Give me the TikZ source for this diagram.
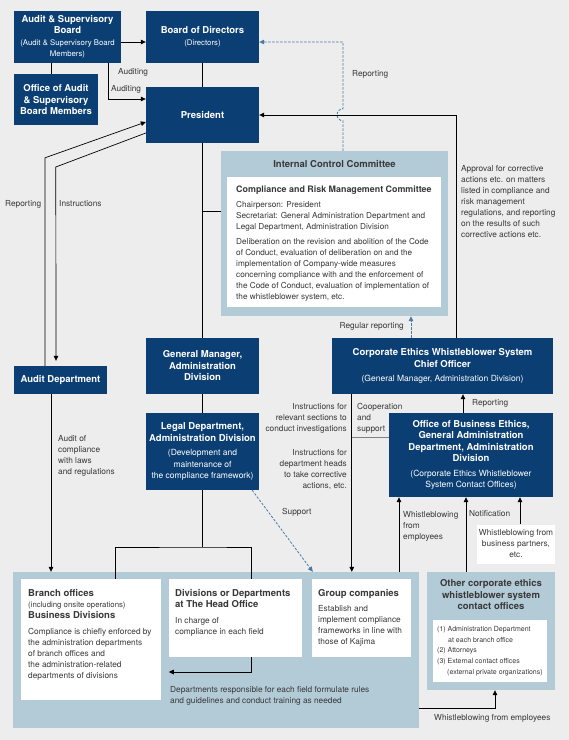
\documentclass[tikz,border=0pt]{standalone}
\usepackage{fontspec}
\setmainfont{TeX Gyre Heros}
\usetikzlibrary{arrows.meta}
\definecolor{navy}{HTML}{0B3F74}
\definecolor{paleblue}{HTML}{B3CAD7}
\definecolor{bggray}{HTML}{EDEDED}
\definecolor{dashblue}{HTML}{4C78A4}
\definecolor{txtgray}{HTML}{383838}
\newcommand{\boxtitle}{\fontsize{9.5}{11.5}\selectfont\bfseries}
\newcommand{\boxtext}{\fontsize{8.3}{11}\selectfont}
\newcommand{\boxsub}{\fontsize{8.5}{11}\selectfont\mdseries}
\newcommand{\boxsubsm}{\fontsize{7.8}{11}\selectfont\mdseries}
\tikzset{
  darkbox/.style={fill=navy, text=white, align=center, inner sep=0pt, font=\boxtitle},
  paleregion/.style={fill=paleblue, inner sep=0pt},
  whitebox/.style={fill=white, inner sep=0pt},
  lbl/.style={text=txtgray, font=\boxtext, inner sep=0pt},
  link/.style={line width=0.7pt},
  conn/.style={line width=0.7pt, -{Triangle[length=5pt,width=4.6pt]}},
  dashconn/.style={dashblue, line width=0.8pt, dash pattern=on 2.4pt off 1.6pt, -{Triangle[length=5pt,width=4.6pt]}}
}

\begin{document}
\begin{tikzpicture}[x=1pt, y=-1pt]
    \fill[bggray] (0,0) rectangle (569,740);
    \useasboundingbox (0,0) rectangle (569,740);

    \node[darkbox, minimum width=107pt, minimum height=52pt] (asb) at (67.5,37) {Audit \& Supervisory\\Board\\\boxsubsm (Audit \& Supervisory Board\\\boxsubsm Members)};
    \node[darkbox, minimum width=113pt, minimum height=52pt] (board) at (202.5,37) {Board of Directors\\\boxsubsm (Directors)};
    \node[darkbox, minimum width=84pt, minimum height=51pt] (office) at (56,99.5) {Office of Audit\\\& Supervisory\\Board Members};
    \node[darkbox, minimum width=113pt, minimum height=56pt] (pres) at (202.5,115) {President};

    \node[paleregion, minimum width=227pt, minimum height=165pt] (icc) at (334.5,233.5) {};
    \node[anchor=north, font=\boxtitle, text=txtgray, inner sep=0pt] (icctitle) at ([yshift=-9.5pt]icc.north) {Internal Control Committee};
    \node[whitebox, minimum width=214pt, minimum height=130pt] (crmc) at (334,242) {};
    \node[lbl, anchor=north west, align=left, font=\fontsize{8.2}{11}\selectfont] (crmctxt) at (236,185.5) {{\fontsize{8.9}{11}\selectfont\bfseries Compliance and Risk Management Committee}\\[4pt]
      Chairperson: President\\
      Secretariat: General Administration Department and\\
      Legal Department, Administration Division\\[4pt]
      Deliberation on the revision and abolition of the Code\\
      of Conduct, evaluation of deliberation on and the\\
      implementation of Company-wide measures\\
      concerning compliance with and the enforcement of\\
      the Code of Conduct, evaluation of implementation of\\
      the whistleblower system, etc.};

    \node[darkbox, minimum width=93pt, minimum height=28pt] (auditdept) at (60.5,380) {Audit Department};
    \node[darkbox, minimum width=113pt, minimum height=56pt] (gm) at (202.5,366) {General Manager,\\Administration\\Division};
    \node[darkbox, minimum width=113pt, minimum height=77pt] (legal) at (202.5,451.5) {Legal Department,\\Administration Division\\[3pt]\boxsub (Development and\\\boxsub maintenance of\\\boxsub the compliance framework)};
    \node[darkbox, minimum width=221pt, minimum height=56pt] (chief) at (442.5,366) {Corporate Ethics Whistleblower System\\Chief Officer\\[3pt]\boxsub (General Manager, Administration Division)};
    \node[darkbox, minimum width=164pt, minimum height=84pt] (ethics) at (471,455) {Office of Business Ethics,\\General Administration\\Department, Administration\\Division\\[3pt]\boxsub (Corporate Ethics Whistleblower\\\boxsub System Contact Offices)};
    \node[whitebox, minimum width=78pt, minimum height=39pt, align=center, font=\boxtext, text=txtgray] (partners) at (516,544) {Whistleblowing from\\business partners,\\etc.};

    \node[paleregion, minimum width=406pt, minimum height=156pt] (bottom) at (216,650) {};
    \node[whitebox, minimum width=140pt, minimum height=121pt] (branch) at (91,639.5) {};
    \node[whitebox, minimum width=133pt, minimum height=78pt] (heads) at (235.5,618) {};
    \node[whitebox, minimum width=99pt, minimum height=78pt] (group) at (361.5,618) {};
    \node[lbl, anchor=north west, align=left] (branchtxt) at (28,589.5) {{\boxtitle Branch offices}\\{\boxsubsm (including onsite operations)}\\{\boxtitle Business Divisions}\\[5pt]
      Compliance is chiefly enforced by\\the administration departments\\of branch offices and\\the administration-related\\departments of divisions};
    \node[lbl, anchor=north west, align=left] (headstxt) at (175,589.5) {{\boxtitle Divisions or Departments}\\{\boxtitle at The Head Office}\\[5pt]
      In charge of\\compliance in each field};
    \node[lbl, anchor=north west, align=left] (grouptxt) at (318,589.5) {{\boxtitle Group companies}\\[4pt]
      Establish and\\implement compliance\\frameworks in line with\\those of Kajima};

    \node[paleregion, minimum width=128pt, minimum height=118pt] (other) at (491,631) {};
    \node[anchor=north, align=center, font=\boxtitle, text=txtgray, inner sep=0pt] (othertitle) at (491,579.5) {Other corporate ethics\\whistleblower system\\contact offices};
    \node[whitebox, minimum width=114pt, minimum height=62pt] (otherlist) at (490,651) {};
    \node[lbl, anchor=north west, align=left, font=\fontsize{7}{10.7}\selectfont] (otherlisttxt) at (437,626) {(1) Administration Department\\\hspace*{11pt}at each branch office\\(2) Attorneys\\(3) External contact offices\\\hspace*{10pt}(external private organizations)};

    % links between the boxes
    \draw[conn] ([yshift=-5pt]asb.east) -- ([yshift=-5pt]board.west);
    \draw[conn] ([xshift=-13pt]asb.south east) |- ([yshift=16pt]pres.west);
    \draw[link] ([xshift=-5pt]office.north) -- ([xshift=-5pt]office.north |- asb.south);
    \draw[link] (board.south) -- (pres.north);
    \draw[link] (pres.south) -- (gm.north);
    \draw[link] ([yshift=22pt]icc.west) -- ([yshift=22pt]icc.west -| pres.south);
    \draw[link] (gm.south) -- (legal.north);
    \coordinate (split) at (202.5,547);
    \draw[link] (legal.south) -- (split);
    \draw[link] ([xshift=24pt]branch.north) |- (split) -| ([xshift=16pt]heads.north);
    \draw[conn] ([xshift=-9.5pt]auditdept.south) -- ([xshift=-9.5pt]auditdept.south |- bottom.north);
    \draw[conn] ([xshift=-15.5pt]auditdept.north) -- ++(0,-208) -- ([yshift=-7pt]pres.west);
    \draw[conn] ([yshift=-18pt]pres.west) -- ++(-90,34) -- ([xshift=-4.5pt,yshift=5pt]auditdept.north);
    \draw[dashconn] ([xshift=8.5pt]icc.north) -- ++(0,-30) arc[start angle=270, end angle=90, radius=6pt] |- ([yshift=-5pt]board.east);
    \draw[conn] ([xshift=13.5pt]chief.north) |- (pres.east);
    \draw[dashconn] ([xshift=-31.5pt]chief.north) -- ([xshift=-31.5pt]chief.north |- icc.south);
    \coordinate (chiefleg) at ([xshift=20pt]chief.south west);
    \draw[conn] (chiefleg) -- (chiefleg |- bottom.north);
    \draw[link, gray] ([yshift=18pt]ethics.west) -- ([yshift=18pt]ethics.west -| chiefleg);
    \draw[conn] ([xshift=-8pt]ethics.north) -- ([xshift=-8pt]ethics.north |- chief.south);
    \draw[conn] ([xshift=-72pt]ethics.south |- bottom.north) -- ([xshift=-72pt]ethics.south);
    \draw[conn] ([xshift=-25pt]other.north) -- ([xshift=-25pt]other.north |- ethics.south);
    \draw[conn] ([xshift=4pt]partners.north) -- ([xshift=4pt]partners.north |- ethics.south);
    \draw[conn] ([yshift=-58pt]bottom.east) -| ([xshift=4pt]other.south);
    \draw[conn] ([xshift=15.5pt]heads.south) |- ([yshift=-54pt]heads.west);
    \draw[dashconn] ([xshift=-7pt]legal.south east) -- ([xshift=1pt]group.north west |- bottom.north);

    % labels on the links
    \node[lbl, anchor=west] (audlbla) at (118,72) {Auditing};
    \node[lbl, anchor=west] (audlblb) at (111,89) {Auditing};
    \node[lbl, anchor=west] (replbla) at (352,74) {Reporting};
    \node[lbl, anchor=north west, align=left] (approvlbl) at (461,165) {Approval for corrective\\actions etc. on matters\\listed in compliance and\\risk management\\regulations, and reporting\\on the results of such\\corrective actions etc.};
    \node[lbl, anchor=west] (replblb) at (5,204) {Reporting};
    \node[lbl, anchor=west] (instrlbl) at (59,204) {Instructions};
    \node[lbl, anchor=north west, align=left] (auditlbl) at (58,435) {Audit of\\compliance\\with laws\\and regulations};
    \node[lbl, anchor=east] (regreplbl) at (404,326) {Regular reporting};
    \node[lbl, anchor=north east, align=right] (invlbl) at (347,403) {Instructions for\\relevant sections to\\conduct investigations};
    \node[lbl, anchor=north west, align=left] (cooplbl) at (357,403) {Cooperation\\and\\support};
    \node[lbl, anchor=north east, align=right] (corrlbl) at (347,449) {Instructions for\\department heads\\to take corrective\\actions, etc.};
    \node[lbl, anchor=west] (replblc) at (472,403) {Reporting};
    \node[lbl, anchor=west] (supplbl) at (282,512) {Support};
    \node[lbl, anchor=north west, align=left] (wblbla) at (403,511) {Whistleblowing\\from\\employees};
    \node[lbl, anchor=west] (notiflbl) at (469,514) {Notification};
    \node[lbl, anchor=north west, align=left] (deptlbl) at (170,686) {Departments responsible for each field formulate rules\\and guidelines and conduct training as needed};
    \node[lbl, anchor=west] (wblblb) at (434,718) {Whistleblowing from employees};
\end{tikzpicture}
\end{document}
